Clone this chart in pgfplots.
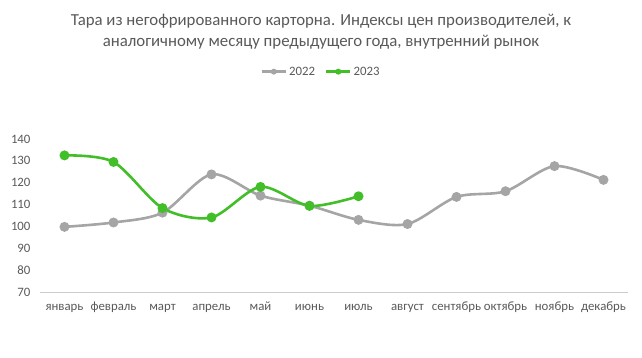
\documentclass[border=0pt]{standalone}
\usepackage{fontspec}
\setmainfont{Carlito}
\usepackage{pgfplots}
\pgfplotsset{compat=1.18}
\definecolor{gser}{RGB}{165,165,165}
\definecolor{grn}{RGB}{66,190,40}
\definecolor{txt}{RGB}{89,89,89}
\begin{document}
\begin{tikzpicture}
\path[use as bounding box] (0,0) rectangle (642pt,358pt);
\node[text=txt,font=\fontsize{16.8}{18}\selectfont] at (321pt,337pt) {Тара из негофрированного карторна. Индексы цен производителей, к};
\node[text=txt,font=\fontsize{16.8}{18}\selectfont] at (321pt,316pt) {аналогичному месяцу предыдущего года, внутренний рынок};
\begin{axis}[
  at={(40pt,66pt)}, anchor=south west,
  scale only axis, width=588pt, height=153pt,
  xmin=-0.5, xmax=11.5, ymin=70, ymax=140,
  xtick={0,...,11},
  xticklabels={январь,февраль,март,апрель,май,июнь,июль,август,сентябрь,октябрь,ноябрь,декабрь},
  ytick={70,80,...,140},
  axis x line*=bottom, axis y line*=left,
  x axis line style={draw=black!20, line width=0.8pt, -},
  y axis line style={draw=none},
  major tick length=0pt,
  tick label style={text=txt, font=\fontsize{12.8}{14}\selectfont},
  /pgf/number format/assume math mode=true,
  xticklabel style={yshift=-7pt, text height=1.6ex, text depth=0.4ex},
  yticklabel style={xshift=-6pt},
  clip=false,
  legend columns=2,
  legend style={at={(axis description cs:0.478,1.44)}, anchor=center, draw=none, fill=none,
    font=\fontsize{12.8}{14}\selectfont, text=txt,
    /tikz/every even column/.append style={column sep=8pt}},
  legend image code/.code={
    \draw[#1, mark=none] (0pt,0pt) -- (24pt,0pt);
    \fill[#1, draw=none] (12pt,0pt) circle (3pt);
  },
]
\addplot[gser, line width=2.6pt, smooth, tension=0.5, mark=*, mark size=3.6pt, mark options={solid, draw=none, fill=gser}]
coordinates {(0,99.8)(1,101.8)(2,106.3)(3,123.8)(4,114.1)(5,109.5)(6,103.0)(7,101.1)(8,113.5)(9,116.1)(10,127.6)(11,121.3)};
\addlegendentry{2022}
\addplot[grn, line width=2.6pt, smooth, tension=0.5, mark=*, mark size=3.6pt, mark options={solid, draw=none, fill=grn}]
coordinates {(0,132.5)(1,129.5)(2,108.4)(3,104.1)(4,118.1)(5,109.4)(6,113.8)};
\addlegendentry{2023}
\end{axis}
\end{tikzpicture}
\end{document}
